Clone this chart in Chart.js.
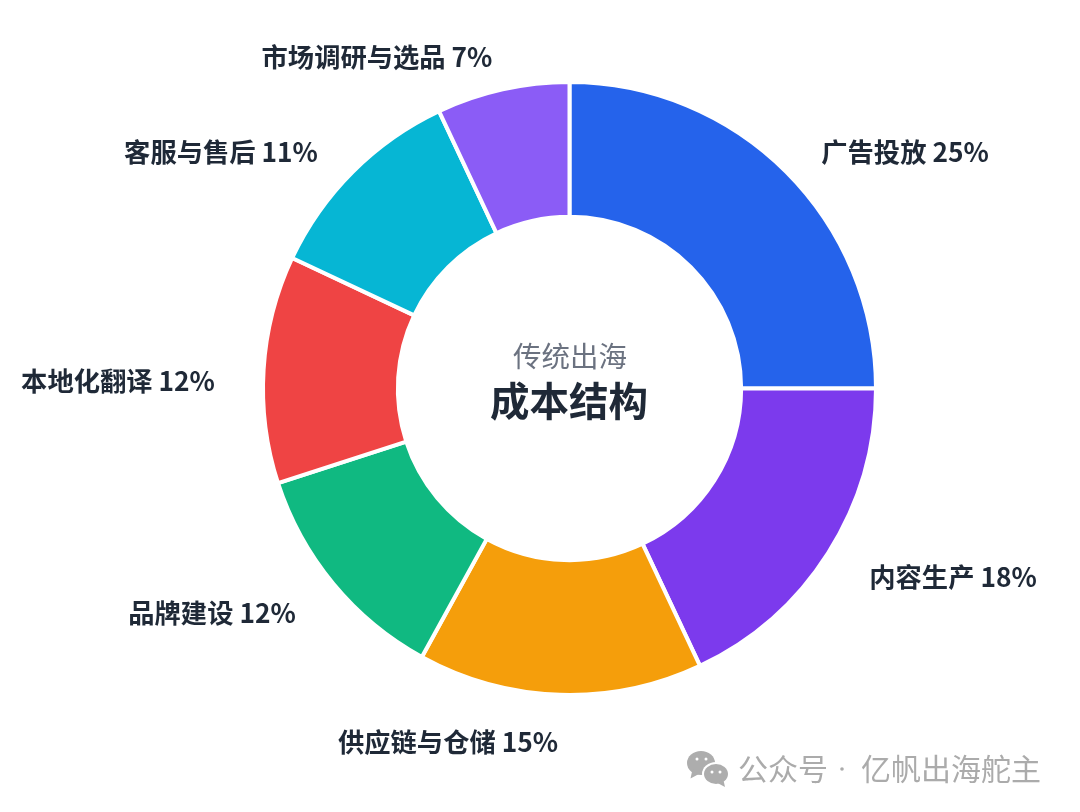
<!DOCTYPE html>
<html><head><meta charset="utf-8">
<script src="https://cdn.jsdelivr.net/npm/chart.js@4"></script>
<style>html,body{margin:0;padding:0;background:#fff}#w{position:relative;width:1080px;height:812px}</style>
</head><body><div id="w"><canvas id="c" width="1080" height="812"></canvas></div>
<script>
const categories=['广告投放','内容生产','供应链与仓储','品牌建设','本地化翻译','客服与售后','市场调研与选品'];
const shares=[25,18,15,12,12,11,7];
const colors=['#2563EB','#7C3AED','#F59E0B','#10B981','#EF4444','#06B6D4','#8B5CF6'];
const labelAnchors=[[905,152],[953,577],[448,742],[212,613],[118,381],[221,152],[377,57]];
const FF='"Noto Sans CJK SC","Noto Sans",sans-serif';
function bubble(x,cx,cy,rx,ry,tx){
 x.fillStyle='#adadad';x.beginPath();x.ellipse(cx,cy,rx,ry,0,0,7);x.fill();
 x.beginPath();x.moveTo(cx+tx*rx*0.6,cy+ry*0.5);x.lineTo(cx+tx*rx*0.75,cy+ry*1.3);x.lineTo(cx+tx*rx*0.05,cy+ry*0.85);x.closePath();x.fill();
}
const overlay={id:'overlay',afterDraw(ch){const x=ch.ctx;x.save();x.textAlign='center';x.textBaseline='middle';
 x.fillStyle='#1F2937';x.font='700 26.3px '+FF;
 categories.forEach((c,i)=>x.fillText(c+' '+shares[i]+'%',labelAnchors[i][0],labelAnchors[i][1]));
 x.fillStyle='#6B7280';x.font='400 28.5px '+FF;x.fillText('传统出海',570,356);
 x.fillStyle='#1F2937';x.font='700 39.5px '+FF;x.fillText('成本结构',569,401);
 x.fillStyle='#ababab';x.font='400 30px '+FF;x.textAlign='left';
 x.fillText('公众号',738,769);x.fillText('亿帆出海舵主',861,769);
 x.beginPath();x.arc(842,769,1.8,0,7);x.fill();
 bubble(x,701,763,14,12,-1);
 x.fillStyle='#fff';x.beginPath();x.ellipse(716,774,14,12,0,0,7);x.fill();
 bubble(x,716,774,12,10,1);
 x.fillStyle='#fff';[[697,759],[706,759],[712,772],[720,772]].forEach(p=>{x.beginPath();x.arc(p[0],p[1],1.5,0,7);x.fill();});
 x.restore();}};
Chart.defaults.devicePixelRatio=1;
new Chart(document.getElementById('c'),{type:'doughnut',
 data:{labels:categories,datasets:[{data:shares,backgroundColor:colors,borderColor:'#fff',borderWidth:4,borderAlign:'center'}]},
 options:{responsive:false,animation:false,cutout:'56%',
  layout:{padding:{left:261,right:202,top:79,bottom:114}},
  plugins:{legend:{display:false},tooltip:{enabled:false},title:{display:false}}},
 plugins:[overlay]});
</script></body></html>
